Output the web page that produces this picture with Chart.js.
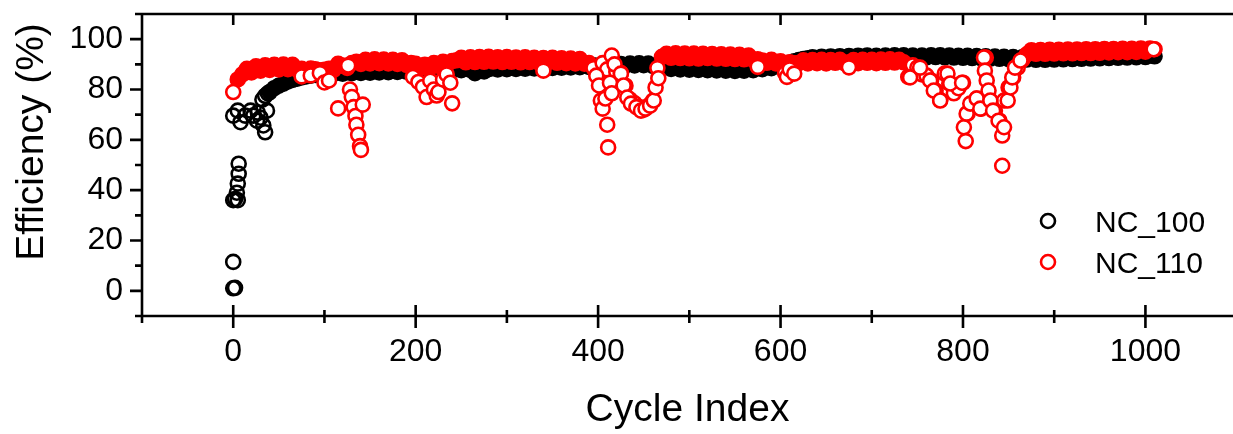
<!DOCTYPE html>
<html>
<head>
<meta charset="utf-8">
<script src="https://cdn.jsdelivr.net/npm/chart.js@4.4.1/dist/chart.umd.min.js"></script>
<style>
  html, body { margin: 0; padding: 0; background: #fff; overflow: hidden; }
  #effChart { display: block; }
</style>
</head>
<body>
<canvas id="effChart" width="1233" height="434"></canvas>
<script>
/* Efficiency vs cycle index — NC_100 / NC_110 */
const FONT = 'Arial, "Liberation Sans", sans-serif';

// cycle samples of the dense bands
const CYCLES = [
  0, 5, 10, 15, 20, 25, 30, 35, 40, 45, 50, 55, 60, 65, 70, 75, 80, 85, 90, 95,
  100, 105, 110, 115, 120, 125, 130, 135, 140, 145, 150, 155, 160, 165, 170, 175, 180, 185, 190, 195,
  200, 205, 210, 215, 220, 225, 230, 235, 240, 245, 250, 255, 260, 265, 270, 275, 280, 285, 290, 295,
  300, 305, 310, 315, 320, 325, 330, 335, 340, 345, 350, 355, 360, 365, 370, 375, 380, 385, 390, 395,
  400, 405, 410, 415, 420, 425, 430, 435, 440, 445, 450, 455, 460, 465, 470, 475, 480, 485, 490, 495,
  500, 505, 510, 515, 520, 525, 530, 535, 540, 545, 550, 555, 560, 565, 570, 575, 580, 585, 590, 595,
  600, 605, 610, 615, 620, 625, 630, 635, 640, 645, 650, 655, 660, 665, 670, 675, 680, 685, 690, 695,
  700, 705, 710, 715, 720, 725, 730, 735, 740, 745, 750, 755, 760, 765, 770, 775, 780, 785, 790, 795,
  800, 805, 810, 815, 820, 825, 830, 835, 840, 845, 850, 855, 860, 865, 870, 875, 880, 885, 890, 895,
  900, 905, 910, 915, 920, 925, 930, 935, 940, 945, 950, 955, 960, 965, 970, 975, 980, 985, 990, 995,
  1000, 1005, 1010,
];

// NC_100 dense band (null = no band point there)
const NC100 = [
  null, null, null, null, null, null, null, null, 79, 80.5, 81.5, 82.3, 83.2, 83.8, 84.3, 84.8, 85.2, 85.5, 85.8, 86,
  86.2, 86.6, 86.2, 86.8, 86.3, 86.9, 86.5, 87.1, 86.6, 87.2, 86.7, 87.3, 86.8, 87.4, 86.9, 87.5, 87, 87.6, 87.1, 87.7,
  87.2, 87.8, 87.3, 87.9, 87.4, 88, 87.5, 88.1, 87.6, 88.2, 87.7, 88.3, 87.8, 86.5, 88, 87.2, 88.1, 88.5, 88, 88.6,
  88.1, 88.7, 88.2, 88.8, 88.3, 88.9, 88.4, 89, 88.5, 89.1, 88.6, 89.2, 88.7, 89.3, 88.8, 89.4, 88.9, 89.5, 89, 89.6,
  89.1, 89.7, 89.2, 89.9, 89.4, 90.1, 89.5, 90.3, 89.6, 90.4, 89.7, 90.3, 89.4, 89.2, 88.5, 89, 88.2, 88.8, 88, 88.7,
  87.9, 88.6, 87.8, 88.5, 87.7, 88.4, 87.6, 88.3, 87.5, 88.2, 87.4, 88.1, 87.5, 88.3, 87.7, 88.6, 88.1, 88.9, 88.5, 89.3,
  89.2, 89.9, 90.6, 91.2, 91.7, 92.1, 92.4, 92.8, 92.5, 93, 92.6, 93.1, 92.7, 93.2, 92.8, 93.3, 92.9, 93.4, 93, 93.5,
  92.6, 93.4, 92.7, 93.5, 92.8, 93.6, 92.9, 93.6, 92.8, 93.5, 92.7, 93.5, 92.8, 93.6, 92.9, 93.6, 92.8, 93.5, 92.7, 93.4,
  92.6, 93.4, 92.5, 93.3, 92.4, 93.2, 92.3, 93.1, 92.2, 93, 92.1, 92.9, 92, 92.8, 91.9, 92.7, 91.8, 92.6, 91.8, 92.5,
  91.9, 92.6, 92, 92.7, 92.1, 92.8, 92.2, 92.9, 92.3, 93, 92.4, 93.1, 92.5, 93.2, 92.6, 93.3, 92.7, 93.4, 92.8, 93.5,
  92.9, 93.5, 93.2,
];

// NC_100 first cycles, off the band (cycle, value)
const NC100_EARLY_X = [0, 2, 0, 0, 2, 5, 4, 5, 6, 6, 0, 5, 8, 13, 19, 22, 26, 27, 30, 33, 35, 37, 32, 35, 38];
const NC100_EARLY_Y = [1, 1.2, 11.5, 36, 36.5, 36, 39, 42.6, 46.5, 50.5, 69.6, 71.6, 67, 69.6, 71.6, 69.6, 67.6, 70.8, 68.8, 65.7, 63, 71.6, 76, 77.5, 78.5];

// NC_110 dense band
const NC110 = [
  null, 84, 86, 88.2, 86.8, 89.2, 87.5, 89.6, 87.8, 89.8, 88, 89.9, 88.1, 89.8, 87.9, 88.2, 87.5, 88.3, 88, 87.6,
  87.8, 88.2, 87.8, 90.2, 89.5, 88.6, 90.5, 91, 90.2, 91.8, 90.4, 92, 90.5, 91.9, 90.4, 91.8, 90.2, 91.6, 89.8, 90.5,
  90.2, 88.6, 89.8, 88.4, 90.5, 89.4, 91, 90.2, 91.3, 91.6, 92.6, 90.8, 92.8, 90.9, 92.9, 91, 93, 91.1, 92.8, 90.9,
  92.9, 91, 92.7, 90.8, 92.8, 90.9, 92.6, 90.7, 92.5, 90.8, 92.6, 90.6, 92.4, 90.5, 92.3, 90.4, 92.1, 90.3, 90.5, null,
  null, null, null, null, null, null, null, null, null, null, null, null, null, null, 93, 94.2, 92.6, 94.4, 92.5, 94.3,
  92.4, 94.3, 92.3, 94.2, 92.5, 94.1, 92.3, 94, 92.2, 93.9, 92.1, 93.8, 92, 93.5, 91.8, 92, 91.5, 90.6, 91.8, 90.4,
  91.2, 90.5, 90.8, 90.4, 90.5, 91.6, 90.4, 91.7, 90.5, 91.8, 90.4, 91.7, 90.6, 91.8, 90.5, 90.8, 91.7, 90.5, 91.8, 90.6,
  91.8, 90.5, 91.9, 90.6, 92, 90.7, 91.8, 90.8, null, null, null, null, null, null, null, null, null, null, null, null,
  null, null, null, null, null, null, null, null, null, null, null, null, null, null, 94, 95.6, 94.2, 95.7, 94.2, 95.8,
  94.3, 95.8, 94.4, 95.9, 94.4, 95.9, 94.5, 96, 94.5, 96, 94.6, 96.1, 94.7, 96.1, 94.8, 96.2, 94.8, 96.2, 94.9, 96.3,
  95, 96.3, 96,
];

// NC_110 points off the band: drops and stragglers (cycle, value)
const NC110_DIP_X = [
  0, 75, 85, 95, 100, 105,
  115, 126, 128, 130, 132, 134, 135, 137, 139, 140, 142,
  197, 203, 208, 212, 216, 220, 223, 225, 230, 234, 238, 240,
  340, 395,
  400, 405, 410, 415, 420, 425, 430, 435, 440, 445, 450, 455, 460, 465,
  398, 401, 403, 405, 408, 410, 411, 413, 415, 418, 425, 428, 432, 436, 442, 447, 452, 457, 461, 463, 466,
  575, 605, 607, 610, 615, 675,
  740, 745, 750, 755, 760, 765, 770, 775, 780, 785, 790, 795,
  800, 805, 810, 815, 820, 825, 830, 835, 840, 845, 850, 855, 860, 865,
  742, 753, 764, 768, 775, 783, 786, 799, 801, 803, 804, 808, 815, 819, 823, 824, 826, 828, 830, 833, 839, 843, 843, 845, 849, 852, 854, 857, 863,
  1009,
];
const NC110_DIP_Y = [
  79, 85.2, 85.6, 86.5, 82.8, 83.6,
  72.5, 89.5, 80, 77, 73, 69.5, 66, 62, 57.5, 56, 74,
  85, 83, 81, 77, 83.5, 80, 77.6, 79, 84, 86, 82.7, 74.5,
  87.5, 88.5,
  85, 90.5, 88, 93.5, 87, 86.5, 81.5, 76, 74.5, 73, 72, 73.5, 75.5, 88.5,
  85.5, 81.6, 75.6, 72.4, 76.4, 66, 57, 82.7, 78.5, 90, 86.3, 81.6, 76.8, 74.4, 73, 71.6, 72.4, 73.6, 75.6, 80.8, 84.5,
  89, 86.5, 85, 88, 86.3, 88.8,
  85, 89.6, 88.7, 86, 85.5, 83.6, 79.6, 75.8, 86.3, 82.4, 78.5, 80.5,
  82.7, 70.4, 74.4, 76.4, 72.4, 92.7, 75.6, 71.6, 67.6, 75.6, 80.8, 84.8, 88.7, 91.8,
  84.8, 88.7, 83.6, 79.6, 75.6, 86.3, 82.4, 82.7, 65, 59.5, 70.4, 74.4, 76.4, 72.4, 92.7, 87.5, 83.6, 79.6, 75.6, 71.6, 67.6, 61.7, 49.7, 65, 75.6, 80.8, 84.8, 88.7, 91.5,
  96,
];

// the picture is cut just before the x = 1100 end of the axis
const X_RANGE = [-100, 1096];
const X_MAJOR = [0, 200, 400, 600, 800, 1000];
const X_MINOR = [-100, 100, 300, 500, 700, 900];
const Y_MAJOR = [0, 20, 40, 60, 80, 100];
const Y_MINOR = [-10, 10, 30, 50, 70, 90, 110];

function bandPoints(values) {
  const pts = [];
  CYCLES.forEach((c, i) => { if (values[i] != null) pts.push({ x: c, y: values[i] }); });
  return pts;
}
function pairPoints(xs, ys) {
  return xs.map((x, i) => ({ x, y: ys[i], extra: true }));
}

const nc100Data = pairPoints(NC100_EARLY_X, NC100_EARLY_Y).concat(bandPoints(NC100));
const nc110Data = bandPoints(NC110).concat(pairPoints(NC110_DIP_X, NC110_DIP_Y));

const frame = {
  id: "frame",
  afterDraw(chart) {
    const { ctx, chartArea: a, scales } = chart;
    const x = scales.x, y = scales.y;
    const edge = chart.width;
    ctx.save();
    ctx.strokeStyle = "#000";
    ctx.lineWidth = 2.6;
    ctx.beginPath();
    ctx.moveTo(edge, a.top); ctx.lineTo(a.left, a.top);
    ctx.lineTo(a.left, a.bottom); ctx.lineTo(edge, a.bottom);
    for (const v of X_MAJOR) {
      const p = x.getPixelForValue(v);
      ctx.moveTo(p, a.bottom - 11); ctx.lineTo(p, a.bottom + 12);
      ctx.moveTo(p, a.top); ctx.lineTo(p, a.top + 11);
    }
    for (const v of X_MINOR) {
      const p = x.getPixelForValue(v);
      ctx.moveTo(p, a.bottom - 6); ctx.lineTo(p, a.bottom + 7);
      ctx.moveTo(p, a.top); ctx.lineTo(p, a.top + 6);
    }
    for (const v of Y_MAJOR) {
      const p = y.getPixelForValue(v);
      ctx.moveTo(a.left - 12, p); ctx.lineTo(a.left, p);
    }
    for (const v of Y_MINOR) {
      const p = y.getPixelForValue(v);
      ctx.moveTo(a.left - 7, p); ctx.lineTo(a.left, p);
    }
    ctx.stroke();

    // axis titles
    ctx.fillStyle = "#000";
    ctx.font = "39px " + FONT;
    ctx.textAlign = "center";
    ctx.textBaseline = "alphabetic";
    ctx.fillText("Cycle Index", (a.left + a.right) / 2, 421);
    ctx.save();
    ctx.translate(43, 142);
    ctx.rotate(-Math.PI / 2);
    ctx.fillText("Efficiency (%)", 0, 0);
    ctx.restore();

    // legend inside the plot
    ctx.font = "30px " + FONT;
    ctx.textAlign = "left";
    chart.data.datasets.forEach((ds, i) => {
      const cy = a.bottom - 95 + i * 41;
      ctx.beginPath();
      ctx.lineWidth = 2.6;
      ctx.strokeStyle = ds.borderColor;
      ctx.arc(a.right - 185, cy, 7, 0, Math.PI * 2);
      ctx.stroke();
      ctx.fillText(ds.label, a.right - 138, cy + 11);
    });
    ctx.restore();
  },
};

new Chart(document.getElementById("effChart"), {
  type: "scatter",
  data: {
    datasets: [
      {
        label: "NC_100",
        data: nc100Data,
        borderColor: "#000000",
        backgroundColor: (c) => (c.raw && c.raw.extra ? "rgba(0,0,0,0)" : "#000000"),
        pointRadius: 7,
        borderWidth: 2.6,
        order: 1,
      },
      {
        label: "NC_110",
        data: nc110Data,
        borderColor: "#ff0000",
        backgroundColor: (c) => (c.raw && c.raw.extra ? "#ffffff" : "#ff0000"),
        pointRadius: 7,
        borderWidth: 2.6,
        order: 0,
      },
    ],
  },
  options: {
    responsive: false,
    animation: false,
    layout: { autoPadding: false, padding: { top: 14, right: 0, left: 0, bottom: 0 } },
    plugins: { legend: { display: false }, tooltip: { enabled: false } },
    scales: {
      x: {
        type: "linear",
        min: X_RANGE[0],
        max: X_RANGE[1],
        afterBuildTicks: (s) => { s.ticks = X_MAJOR.map((v) => ({ value: v })); },
        afterFit: (s) => { s.height = 118; s.paddingLeft = 0; s.paddingRight = 0; },
        grid: { display: false, drawTicks: false },
        border: { display: false },
        ticks: {
          color: "#000", font: { size: 32, family: FONT }, padding: 17, maxRotation: 0,
          callback: (v) => String(v),
        },
      },
      y: {
        type: "linear",
        min: -10,
        max: 110,
        afterBuildTicks: (s) => { s.ticks = Y_MAJOR.map((v) => ({ value: v })); },
        afterFit: (s) => { s.width = 142; s.paddingTop = 0; s.paddingBottom = 0; },
        grid: { display: false, drawTicks: false },
        border: { display: false },
        ticks: { color: "#000", font: { size: 32, family: FONT }, padding: 19 },
      },
    },
  },
  plugins: [frame],
});
</script>
</body>
</html>
